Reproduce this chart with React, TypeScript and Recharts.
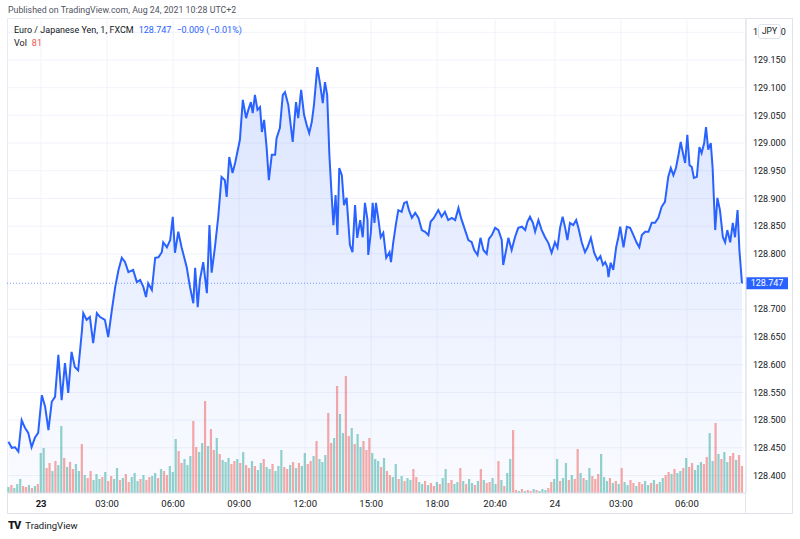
import {
  Area,
  Bar,
  CartesianGrid,
  Cell,
  ComposedChart,
  ReferenceLine,
  XAxis,
  YAxis,
} from "recharts";

const FONT = "Roboto, 'Noto Sans', sans-serif";
const BLUE = "#2962ff";
const GRID = "#f0f3fa";
const BORDER = "#e0e3eb";

// minutes since the first bar on the chart
const priceTime = [
  4, 13, 22, 31, 40, 49, 58, 67, 76, 85,
  95, 104, 113, 122, 131, 140, 149, 158, 167, 176,
  185, 194, 204, 208, 217, 226, 235, 245, 254, 267,
  276, 286, 295, 304, 313, 322, 331, 344, 354, 363,
  372, 379, 385, 395, 404, 413, 422, 426, 436, 445,
  452, 458, 467, 476, 485, 490, 499, 508, 513, 520,
  526, 535, 545, 552, 558, 567, 576, 585, 594, 599,
  606, 615, 622, 631, 635, 643, 652, 658, 665, 670,
  676, 683, 690, 695, 701, 708, 714, 722, 731, 735,
  744, 752, 758, 767, 779, 788, 794, 802, 810, 817,
  824, 831, 837, 846, 854, 861, 867, 873, 879, 884,
  890, 896, 901, 906, 913, 919, 926, 935, 942, 949,
  955, 963, 970, 976, 983, 985, 992, 997, 1002, 1006,
  1013, 1019, 1026, 1034, 1043, 1047, 1053, 1061, 1067, 1076,
  1083, 1090, 1096, 1104, 1113, 1122, 1131, 1140, 1149, 1155,
  1164, 1176, 1185, 1194, 1203, 1213, 1222, 1231, 1238, 1249,
  1258, 1267, 1274, 1283, 1291, 1299, 1308, 1314, 1322, 1331,
  1340, 1349, 1353, 1361, 1367, 1376, 1385, 1394, 1404, 1413,
  1419, 1426, 1434, 1440, 1449, 1458, 1467, 1476, 1485, 1494,
  1501, 1508, 1515, 1522, 1528, 1535, 1544, 1552, 1558, 1567,
  1576, 1583, 1592, 1601, 1610, 1618, 1625, 1631, 1637, 1640,
  1646, 1653, 1661, 1667, 1672, 1681, 1690, 1699, 1708, 1717,
  1724, 1731, 1740, 1749, 1758, 1767, 1776, 1785, 1794, 1803,
  1810, 1817, 1824, 1831, 1837, 1843, 1849, 1855, 1861, 1867,
  1873, 1881, 1888, 1894, 1901, 1906, 1912, 1919, 1924, 1931,
  1937, 1944, 1952, 1958, 1964, 1972, 1979, 1985, 1992, 1997,
  2004,
];

const priceValue = [
  128.461, 128.45, 128.451, 128.443, 128.5, 128.486, 128.477, 128.451, 128.468, 128.477,
  128.545, 128.524, 128.482, 128.533, 128.542, 128.618, 128.536, 128.603, 128.549, 128.623,
  128.596, 128.59, 128.659, 128.693, 128.681, 128.686, 128.639, 128.693, 128.686, 128.681,
  128.65, 128.699, 128.74, 128.771, 128.793, 128.785, 128.767, 128.771, 128.749, 128.753,
  128.74, 128.722, 128.747, 128.735, 128.793, 128.794, 128.803, 128.821, 128.812, 128.825,
  128.867, 128.802, 128.84, 128.812, 128.789, 128.776, 128.74, 128.711, 128.775, 128.704,
  128.753, 128.785, 128.729, 128.852, 128.766, 128.812, 128.867, 128.939, 128.933, 128.903,
  128.975, 128.946, 128.964, 128.993, 129.006, 129.078, 129.045, 129.06, 129.074, 129.054,
  129.087, 129.06, 129.065, 129.02, 129.042, 128.991, 128.933, 128.979, 128.979, 129.009,
  129.027, 129.087, 129.092, 129.069, 129.002, 129.074, 129.045, 129.096, 129.051, 129.033,
  129.018, 129.038, 129.069, 129.137, 129.105, 129.072, 129.11, 129.087, 128.979, 128.919,
  128.852, 128.906, 128.834, 128.955, 128.942, 128.888, 128.901, 128.816, 128.803, 128.888,
  128.829, 128.861, 128.83, 128.892, 128.861, 128.798, 128.838, 128.892, 128.856, 128.892,
  128.861, 128.83, 128.838, 128.793, 128.803, 128.785, 128.82, 128.856, 128.879, 128.876,
  128.892, 128.894, 128.879, 128.865, 128.874, 128.865, 128.843, 128.84, 128.834, 128.858,
  128.865, 128.879, 128.867, 128.876, 128.861, 128.865, 128.861, 128.883, 128.865, 128.843,
  128.825, 128.821, 128.807, 128.798, 128.829, 128.807, 128.8, 128.827, 128.834, 128.847,
  128.843, 128.825, 128.78, 128.807, 128.829, 128.807, 128.83, 128.847, 128.849, 128.843,
  128.858, 128.867, 128.856, 128.84, 128.861, 128.843, 128.83, 128.82, 128.802, 128.821,
  128.811, 128.847, 128.867, 128.847, 128.825, 128.856, 128.852, 128.861, 128.847, 128.821,
  128.803, 128.812, 128.829, 128.802, 128.789, 128.796, 128.78, 128.785, 128.776, 128.758,
  128.784, 128.771, 128.812, 128.83, 128.849, 128.812, 128.849, 128.847, 128.834, 128.82,
  128.812, 128.834, 128.84, 128.84, 128.856, 128.856, 128.865, 128.885, 128.894, 128.939,
  128.955, 128.942, 128.955, 128.979, 129.002, 128.982, 128.964, 129.015, 128.96, 128.957,
  128.937, 128.939, 128.993, 128.982, 129.0, 129.029, 128.988, 129.0, 128.955, 128.843,
  128.901, 128.879, 128.83, 128.821, 128.843, 128.821, 128.856, 128.83, 128.879, 128.807,
  128.747,
];

// volume, one value per 8-minute bucket
const volume = [
  18, 24, 15, 27, 42, 21, 18, 24, 15, 21, 27,
  120,
  135, 75, 90, 66, 96, 84, 201, 105, 78, 93, 72, 87, 66, 147,
  54, 45, 66, 39, 57, 42, 48, 63,
  36, 51, 42, 75, 39, 45, 57, 33, 48, 60, 36, 42, 54, 39, 48,
  51, 60, 45, 72, 66, 54, 81, 63,
  162, 126, 90, 102, 84, 111,
  216, 138, 123, 150, 276, 141, 192, 129, 165, 117,
  99, 93, 105, 87, 96, 102, 90,
  123, 84, 75, 96, 81, 69, 90, 102, 78, 72, 87, 66, 81, 129, 78,
  72, 84, 93, 75, 90, 81, 120, 87, 96, 111, 156, 102, 93, 114,
  240, 150, 165, 321, 237, 180, 351, 171, 195, 147, 177, 138, 156, 129, 165, 120, 102,
  96, 78, 105, 66,
  54, 48, 87, 42, 51, 36, 45, 39, 72, 48, 33,
  27, 36, 24, 30, 21, 33, 27, 45,
  72, 30, 39, 27, 33, 75, 36, 27, 42, 30, 24, 36, 72, 39, 30,
  33, 45, 27, 96, 39, 21, 60, 102, 189,
  9, 6, 12, 6, 9, 6, 12, 9, 6, 12, 9, 15,
  33, 42, 102, 36, 45, 90, 39, 54, 42, 132,
  60, 45, 39, 75, 51, 42, 57, 117, 48, 36,
  45, 30, 36, 27, 75, 33, 24, 39, 30, 21, 33, 27, 36, 24, 30, 39, 27, 33, 45,
  54, 63, 57, 72, 60, 66, 75, 105,
  78, 90, 69, 84, 93, 87,
  108, 180, 96, 210, 117, 102, 123, 93, 111, 120, 99, 114, 81,
];

// g = up bucket, r = down bucket
const volumeDir =
  "grgggrrgrg" + "rggrrgrggr" + "grrggrgrrg" + "ggrgrrggrg" + "rrgggrgrrg" +
  "grgrrgggrr" + "gggrrggrgr" + "rgrgggrrgr" + "grrgrggrgg" + "rgggrrgrgr" +
  "ggrrgrgggr" + "rgrggrrgrg" + "grrrgggrgr" + "rggrgrggrr" + "ggrgrrgrgg" +
  "rrggrgrggr" + "grgrrggrgr" + "ggrrgrgrrg" + "rgggrrggrg" + "grgrrgrggr" +
  "rrgggrgrgr" + "ggrrgrrggr" + "grggrrgrgg" + "rgrrgggrrg" + "grgrggrrgr" + "r";

const timeTicks = [93, 273, 453, 633, 813, 993, 1173, 1331, 1494, 1674, 1854];
const timeLabels = ["23", "03:00", "06:00", "09:00", "12:00", "15:00", "18:00", "20:40", "24", "03:00", "06:00"];
const dayLabels = ["23"];

const priceTicks = [
  128.4, 128.45, 128.5, 128.55, 128.6, 128.65, 128.7, 128.8, 128.85,
  128.9, 128.95, 129.0, 129.05, 129.1, 129.15, 129.2,
];

const lastPrice = 128.747;

type Row = { t: number; price?: number; vol?: number; dir?: string };

const byTime = new Map<number, Row>();
priceTime.forEach((t, i) => {
  byTime.set(t, { t, price: priceValue[i] });
});
volume.forEach((v, i) => {
  const t = 4 + i * 8;
  const row = byTime.get(t) ?? { t };
  row.vol = v;
  row.dir = volumeDir[i];
  byTime.set(t, row);
});
const rows = Array.from(byTime.values()).sort((a, b) => a.t - b.t);

// fixed-width volume bar, centred on its bucket time
const VolumeBar = (props: any) => {
  const { x, y, width, height, fill } = props;
  if (!height || height <= 0) return null;
  const w = 2.2;
  return <rect x={x + width / 2 - w / 2} y={y} width={w} height={height} fill={fill} />;
};

const TimeTick = ({ x, y, payload }: any) => {
  const idx = timeTicks.indexOf(payload.value);
  const label = timeLabels[idx] ?? "";
  return (
    <text
      x={x}
      y={y}
      dy="0.71em"
      textAnchor="middle"
      fill="#131722"
      fontSize={9.5}
      fontFamily={FONT}
      fontWeight={dayLabels.includes(label) ? 700 : 400}
    >
      {label}
    </text>
  );
};

const PriceTag = (props: any) => {
  const { viewBox } = props;
  if (!viewBox) return null;
  const x = viewBox.x + viewBox.width;
  const y = viewBox.y;
  return (
    <g>
      <rect x={x} y={y - 6} width={42} height={12} fill={BLUE} />
      <text
        x={x + 21}
        y={y}
        dy="0.36em"
        textAnchor="middle"
        fill="#ffffff"
        fontSize={9}
        fontFamily={FONT}
      >
        {lastPrice.toFixed(3)}
      </text>
    </g>
  );
};

export default function App() {
  return (
    <div
      style={{
        position: "absolute",
        left: 0,
        top: 0,
        width: 800,
        height: 539,
        background: "#ffffff",
        fontFamily: FONT,
        color: "#131722",
        overflow: "hidden",
      }}
    >
      <div style={{ position: "absolute", left: 8, top: 5, fontSize: 8.8, color: "#50535e" }}>
        Published on TradingView.com, Aug 24, 2021 10:28 UTC+2
      </div>

      <div
        style={{
          position: "absolute",
          left: 7,
          top: 18,
          width: 784,
          height: 494,
          border: `1px solid ${BORDER}`,
        }}
      />
      <div style={{ position: "absolute", left: 745, top: 18, width: 1, height: 495, background: BORDER }} />

      <div style={{ position: "absolute", left: 7, top: 18 }}>
        <ComposedChart
          width={785}
          height={495}
          data={rows}
          margin={{ top: 0, right: 0, bottom: 0, left: 0 }}
        >
          <defs>
            <linearGradient id="priceFill" x1="0" y1="0" x2="0" y2="1">
              <stop offset="0%" stopColor={BLUE} stopOpacity={0.28} />
              <stop offset="100%" stopColor={BLUE} stopOpacity={0.04} />
            </linearGradient>
          </defs>
          <CartesianGrid stroke={GRID} yAxisId="price" />
          <XAxis
            dataKey="t"
            type="number"
            domain={[0, 2015]}
            allowDataOverflow
            ticks={timeTicks}
            tick={<TimeTick />}
            tickLine={false}
            tickSize={0}
            tickMargin={7}
            axisLine={{ stroke: BORDER }}
            height={20}
            interval={0}
          />
          <YAxis
            yAxisId="price"
            orientation="right"
            type="number"
            domain={[128.3684, 129.2258]}
            allowDataOverflow
            ticks={priceTicks}
            interval={0}
            tickFormatter={(v: number) => v.toFixed(3)}
            tick={{ fill: "#131722", fontSize: 9, fontFamily: FONT, textAnchor: "start" }}
            tickLine={false}
            tickSize={0}
            tickMargin={7}
            axisLine={{ stroke: BORDER }}
            width={46}
          />
          <YAxis yAxisId="vol" hide domain={[0, 1425]} allowDataOverflow />
          <Bar
            yAxisId="vol"
            dataKey="vol"
            shape={<VolumeBar />}
            isAnimationActive={false}
          >
            {rows.map((r, i) => (
              <Cell
                key={i}
                fill={r.dir === "r" ? "rgba(239,83,80,0.5)" : "rgba(38,166,154,0.5)"}
              />
            ))}
          </Bar>
          <Area
            yAxisId="price"
            type="linear"
            dataKey="price"
            stroke={BLUE}
            strokeWidth={2}
            fill="url(#priceFill)"
            connectNulls
            dot={false}
            activeDot={false}
            isAnimationActive={false}
          />
          <ReferenceLine
            yAxisId="price"
            y={lastPrice}
            stroke={BLUE}
            strokeOpacity={0.6}
            strokeDasharray="1 2"
            label={<PriceTag />}
          />
        </ComposedChart>
      </div>

      <div style={{ position: "absolute", left: 14, top: 24, fontSize: 9, lineHeight: "13px" }}>
        <div>
          <span>Euro / Japanese Yen, 1, FXCM</span>
          <span style={{ color: BLUE, marginLeft: 5 }}>128.747</span>
          <span style={{ color: BLUE, marginLeft: 5 }}>−0.009 (−0.01%)</span>
        </div>
        <div>
          <span>Vol</span>
          <span style={{ color: "#ef5350", marginLeft: 5 }}>81</span>
        </div>
      </div>

      <div
        style={{
          position: "absolute",
          left: 758,
          top: 24,
          width: 21,
          height: 13,
          border: `1px solid ${BORDER}`,
          borderRadius: 3,
          background: "#ffffff",
          fontSize: 8.5,
          lineHeight: "13px",
          textAlign: "center",
        }}
      >
        JPY
      </div>

      <div style={{ position: "absolute", left: 8, top: 519, display: "flex", alignItems: "center" }}>
        <span style={{ fontWeight: 900, fontSize: 11, letterSpacing: -1, marginRight: 5 }}>TV</span>
        <span style={{ fontSize: 9.5, color: "#131722" }}>TradingView</span>
      </div>
    </div>
  );
}
